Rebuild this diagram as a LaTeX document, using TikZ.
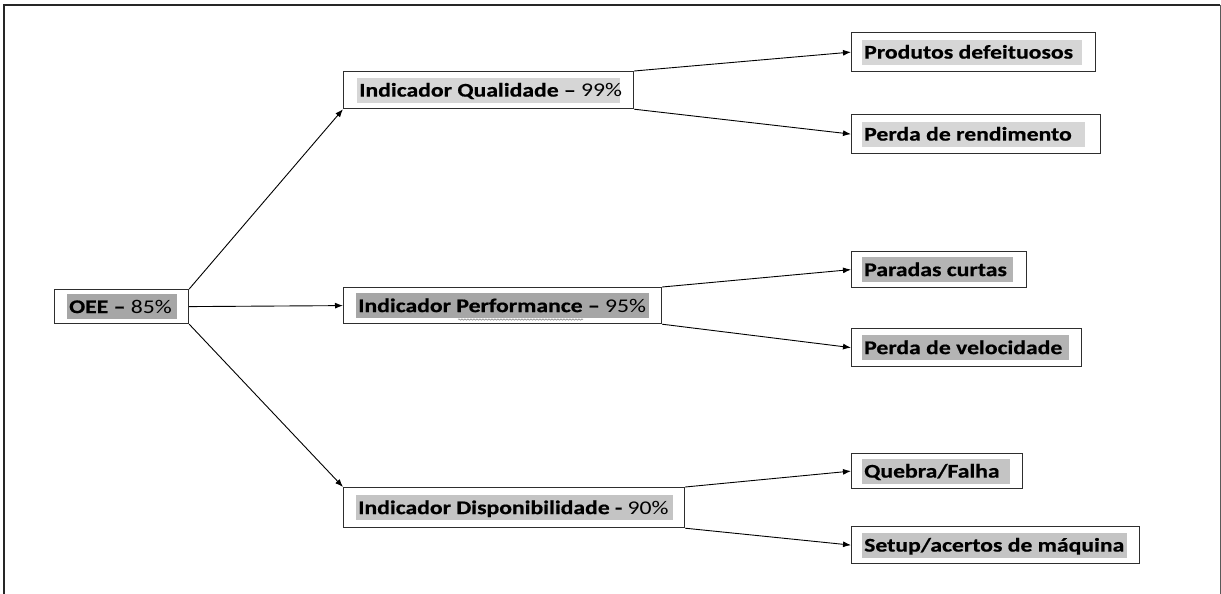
\documentclass[tikz,border=0pt]{standalone}
\usepackage{fontspec}
\newfontfamily\cf{Carlito}[FakeStretch=1.22, BoldFeatures={FakeBold=0.6}]
\usetikzlibrary{arrows.meta,decorations.pathmorphing}
\definecolor{hlA}{HTML}{A6A6A6}
\definecolor{hlB}{HTML}{B4B4B4}
\definecolor{hlC}{HTML}{C4C4C4}
\definecolor{hlD}{HTML}{D6D6D6}
\definecolor{boxc}{HTML}{2E2E2E}
\newcommand{\hlbox}[2]{\makebox[#1][l]{#2}}
\begin{document}
\begin{tikzpicture}[x=1pt,y=-1pt,
  box/.style={draw=boxc, line width=1.2pt, anchor=north west, inner sep=0pt},
  hl/.style={anchor=west, inner xsep=2pt, inner ysep=0pt, text height=19pt, text depth=6pt,
             font=\cf\fontsize{19.4}{23}\selectfont},
  arr/.style={line width=0.9pt, -{Latex[length=8pt,width=6pt]}}]
\useasboundingbox (0,0) rectangle (1221,594);
% frame
\draw[line width=2.5pt, black!85] (4,594) -- (4,5) -- (1220,5);
\draw[line width=1pt, black!65] (1220,5) -- (1220,594);
% main
\node[box, minimum width=134pt, minimum height=34pt] (oee) at (54,289) {};
\node[hl, fill=hlA] (oeet) at ([xshift=13pt]oee.west) {\hlbox{106pt}{\textbf{OEE –} 85\%}};
% level 2
\node[box, minimum width=290pt, minimum height=37pt] (qual) at (343,71) {};
\node[hl, fill=hlD] (qualt) at ([xshift=14pt]qual.west) {\hlbox{259pt}{\textbf{Indicador Qualidade –} 99\%}};
\node[box, minimum width=318pt, minimum height=36pt] (perf) at (343,287) {};
\node[hl, fill=hlA] (perft) at ([xshift=13pt]perf.west) {\hlbox{289pt}{\textbf{Indicador Performance –} 95\%}};
\node[box, minimum width=341pt, minimum height=40pt] (disp) at (343,487) {};
\node[hl, fill=hlC] (dispt) at ([xshift=13pt]disp.west) {\hlbox{313pt}{\textbf{Indicador Disponibilidade -} 90\%}};
% level 3
\node[box, minimum width=244pt, minimum height=39pt] (prod) at (851,32) {};
\node[hl, fill=hlD] (prodt) at ([xshift=11pt]prod.west) {\hlbox{216pt}{\textbf{Produtos defeituosos}}};
\node[box, minimum width=249pt, minimum height=39pt] (rend) at (851,114) {};
\node[hl, fill=hlD] (rendt) at ([xshift=11pt]rend.west) {\hlbox{219pt}{\textbf{Perda de rendimento}}};
\node[box, minimum width=175pt, minimum height=36pt] (para) at (851,251) {};
\node[hl, fill=hlB] (parat) at ([xshift=11pt]para.west) {\hlbox{147pt}{\textbf{Paradas curtas}}};
\node[box, minimum width=230pt, minimum height=38pt] (velo) at (851,328) {};
\node[hl, fill=hlB] (velot) at ([xshift=11pt]velo.west) {\hlbox{203pt}{\textbf{Perda de velocidade}}};
\node[box, minimum width=171pt, minimum height=35pt] (queb) at (851,453) {};
\node[hl, fill=hlC] (quebt) at ([xshift=11pt]queb.west) {\hlbox{144pt}{\textbf{Quebra/Falha}}};
\node[box, minimum width=288pt, minimum height=37pt] (setu) at (851,526) {};
\node[hl, fill=hlC] (setut) at ([xshift=11pt]setu.west) {\hlbox{261pt}{\textbf{Setup/acertos de máquina}}};
% wavy underline
\draw[gray, line width=0.5pt, decorate, decoration={snake, amplitude=0.7pt, segment length=3pt}] (458,319.5) -- (583,319.5);
% connectors
\draw[arr] (oee.north east) -- (qual.south west);
\draw[arr] (oee.east) -- (perf.west);
\draw[arr] (oee.south east) -- (disp.north west);
\draw[arr] (qual.north east) -- (prod.west);
\draw[arr] (qual.south east) -- (rend.west);
\draw[arr] (perf.north east) -- (para.west);
\draw[arr] (perf.south east) -- (velo.west);
\draw[arr] (disp.north east) -- (queb.west);
\draw[arr] (disp.south east) -- (setu.west);
\end{tikzpicture}
\end{document}
